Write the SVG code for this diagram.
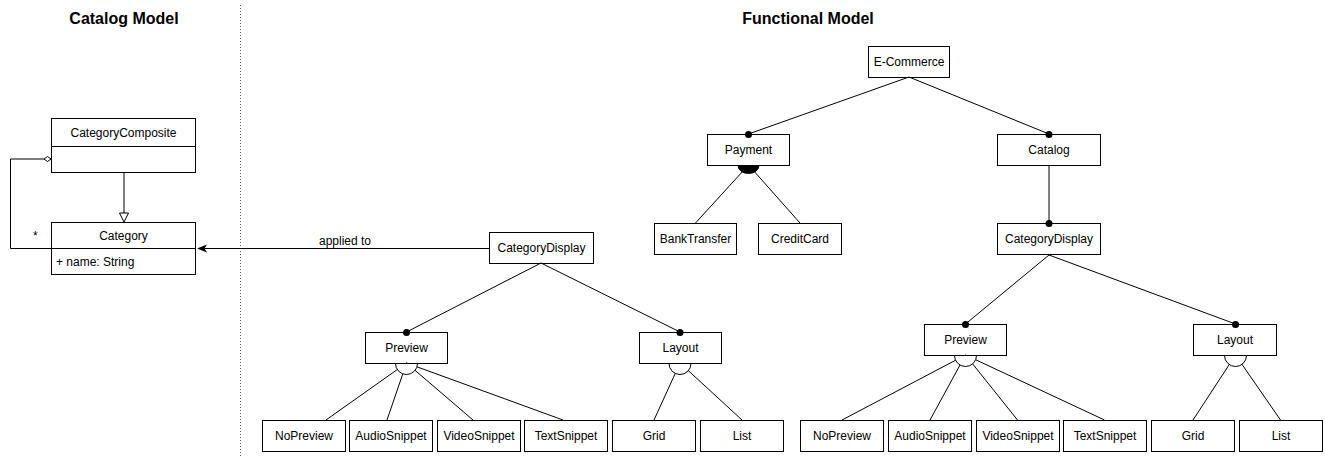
<svg xmlns="http://www.w3.org/2000/svg" width="1325" height="456" viewBox="0 0 1325 456">
  <style>
    .box { fill: #ffffff; stroke: #000000; stroke-width: 1; }
    .edge { fill: none; stroke: #000000; stroke-width: 1; }
    .lbl { font-family: "Liberation Sans", Arial, sans-serif; font-size: 12px; fill: #000000; text-anchor: middle; }
    .lbl-l { font-family: "Liberation Sans", Arial, sans-serif; font-size: 12px; fill: #000000; }
    .title { font-family: "Liberation Sans", Arial, sans-serif; font-size: 16px; font-weight: bold; fill: #000000; text-anchor: middle; }
    .dot { fill: #000000; }
    .alt { fill: #ffffff; stroke: #000000; stroke-width: 1; }
    .or { fill: #000000; stroke: #000000; stroke-width: 1; }
    .sep { stroke: #555555; stroke-width: 1; stroke-dasharray: 1 2; }
  </style>

  <!-- section titles and separator -->
  <text class="title" x="124" y="24">Catalog Model</text>
  <text class="title" x="808" y="24">Functional Model</text>
  <line class="sep" x1="240.5" y1="5" x2="240.5" y2="456"/>

  <!-- UML classes -->
  <g id="CategoryComposite">
    <rect class="box" x="51.5" y="118.5" width="144" height="54"/>
    <line class="edge" x1="51.5" y1="146.5" x2="195.5" y2="146.5"/>
    <text class="lbl" x="123.5" y="137">CategoryComposite</text>
  </g>
  <g id="Category">
    <rect class="box" x="51.5" y="222.5" width="144" height="52"/>
    <line class="edge" x1="51.5" y1="248.5" x2="195.5" y2="248.5"/>
    <text class="lbl" x="123.5" y="240">Category</text>
    <text class="lbl-l" x="56" y="266">+ name: String</text>
  </g>

  <!-- feature nodes -->
  <g id="ECommerce">
    <rect class="box" x="868.5" y="46.5" width="81" height="31"/>
    <text class="lbl" x="909" y="66">E-Commerce</text>
  </g>
  <g id="Payment">
    <rect class="box" x="707.5" y="134.5" width="82" height="31"/>
    <text class="lbl" x="748.5" y="154">Payment</text>
  </g>
  <g id="Catalog">
    <rect class="box" x="997.5" y="134.5" width="103" height="31"/>
    <text class="lbl" x="1049" y="154">Catalog</text>
  </g>
  <g id="BankTransfer">
    <rect class="box" x="654.5" y="223.5" width="82" height="31"/>
    <text class="lbl" x="695.5" y="243">BankTransfer</text>
  </g>
  <g id="CreditCard">
    <rect class="box" x="758.5" y="223.5" width="83" height="31"/>
    <text class="lbl" x="800" y="243">CreditCard</text>
  </g>
  <g id="CategoryDisplayRight">
    <rect class="box" x="997.5" y="223.5" width="103" height="31"/>
    <text class="lbl" x="1049" y="243">CategoryDisplay</text>
  </g>
  <g id="CategoryDisplayLeft">
    <rect class="box" x="489.5" y="232.5" width="104" height="31"/>
    <text class="lbl" x="541.5" y="252">CategoryDisplay</text>
  </g>

  <!-- left subtree -->
  <g id="PreviewLeft">
    <rect class="box" x="365.5" y="332.5" width="82" height="31"/>
    <text class="lbl" x="406.5" y="352">Preview</text>
  </g>
  <g id="LayoutLeft">
    <rect class="box" x="639.5" y="332.5" width="82" height="31"/>
    <text class="lbl" x="680.5" y="352">Layout</text>
  </g>
  <g id="NoPreviewLeft">
    <rect class="box" x="262.5" y="420.5" width="83" height="31"/>
    <text class="lbl" x="304" y="440">NoPreview</text>
  </g>
  <g id="AudioSnippetLeft">
    <rect class="box" x="349.5" y="420.5" width="83" height="31"/>
    <text class="lbl" x="391" y="440">AudioSnippet</text>
  </g>
  <g id="VideoSnippetLeft">
    <rect class="box" x="437.5" y="420.5" width="83" height="31"/>
    <text class="lbl" x="479" y="440">VideoSnippet</text>
  </g>
  <g id="TextSnippetLeft">
    <rect class="box" x="524.5" y="420.5" width="83" height="31"/>
    <text class="lbl" x="566" y="440">TextSnippet</text>
  </g>
  <g id="GridLeft">
    <rect class="box" x="612.5" y="420.5" width="83" height="31"/>
    <text class="lbl" x="654" y="440">Grid</text>
  </g>
  <g id="ListLeft">
    <rect class="box" x="700.5" y="420.5" width="83" height="31"/>
    <text class="lbl" x="742" y="440">List</text>
  </g>

  <!-- right subtree -->
  <g id="PreviewRight">
    <rect class="box" x="924.5" y="324.5" width="82" height="31"/>
    <text class="lbl" x="965.5" y="344">Preview</text>
  </g>
  <g id="LayoutRight">
    <rect class="box" x="1193.5" y="324.5" width="83" height="31"/>
    <text class="lbl" x="1235" y="344">Layout</text>
  </g>
  <g id="NoPreviewRight">
    <rect class="box" x="800.5" y="420.5" width="83" height="31"/>
    <text class="lbl" x="842" y="440">NoPreview</text>
  </g>
  <g id="AudioSnippetRight">
    <rect class="box" x="888.5" y="420.5" width="83" height="31"/>
    <text class="lbl" x="930" y="440">AudioSnippet</text>
  </g>
  <g id="VideoSnippetRight">
    <rect class="box" x="976.5" y="420.5" width="83" height="31"/>
    <text class="lbl" x="1018" y="440">VideoSnippet</text>
  </g>
  <g id="TextSnippetRight">
    <rect class="box" x="1063.5" y="420.5" width="83" height="31"/>
    <text class="lbl" x="1105" y="440">TextSnippet</text>
  </g>
  <g id="GridRight">
    <rect class="box" x="1151.5" y="420.5" width="83" height="31"/>
    <text class="lbl" x="1193" y="440">Grid</text>
  </g>
  <g id="ListRight">
    <rect class="box" x="1239.5" y="420.5" width="83" height="31"/>
    <text class="lbl" x="1281" y="440">List</text>
  </g>

  <!-- connectors, drawn above the boxes so end dots stay whole -->
  <g id="connectors">
    <!-- UML: generalization CategoryComposite -> Category -->
    <line class="edge" x1="124" y1="172" x2="124" y2="213"/>
    <path class="alt" d="M119.5,213 L128.5,213 L124,222 Z"/>
    <!-- UML: aggregation loop -->
    <path class="edge" d="M44,159 L10.5,159 L10.5,248.5 L51,248.5"/>
    <path class="alt" d="M51,159 L47.5,156.5 L44,159 L47.5,161.5 Z"/>
    <text class="lbl-l" x="33" y="240">*</text>
    <!-- applied to -->
    <line class="edge" x1="489" y1="248.5" x2="200" y2="248.5"/>
    <path class="dot" d="M197,248.5 L207,244.5 L204.5,248.5 L207,252.5 Z"/>
    <text class="lbl" x="345" y="245">applied to</text>

    <!-- E-Commerce subtree -->
    <line class="edge" x1="909" y1="77" x2="748.5" y2="134"/>
    <line class="edge" x1="909" y1="77" x2="1049" y2="134"/>
    <line class="edge" x1="748.5" y1="165" x2="695.5" y2="223"/>
    <line class="edge" x1="748.5" y1="165" x2="800" y2="223"/>
    <line class="edge" x1="1049" y1="165" x2="1049" y2="223"/>

    <!-- left CategoryDisplay subtree -->
    <line class="edge" x1="541" y1="263" x2="406.5" y2="332"/>
    <line class="edge" x1="541" y1="263" x2="680" y2="332"/>
    <line class="edge" x1="406.5" y1="363" x2="326" y2="420"/>
    <line class="edge" x1="406.5" y1="363" x2="387" y2="420"/>
    <line class="edge" x1="406.5" y1="363" x2="473" y2="420"/>
    <line class="edge" x1="406.5" y1="363" x2="563" y2="420"/>
    <line class="edge" x1="680" y1="363" x2="654" y2="420"/>
    <line class="edge" x1="680" y1="363" x2="742" y2="420"/>

    <!-- right CategoryDisplay subtree -->
    <line class="edge" x1="1049" y1="255" x2="965.5" y2="324"/>
    <line class="edge" x1="1049" y1="255" x2="1235.5" y2="324"/>
    <line class="edge" x1="965.5" y1="355" x2="842" y2="420"/>
    <line class="edge" x1="965.5" y1="355" x2="930" y2="420"/>
    <line class="edge" x1="965.5" y1="355" x2="1017.5" y2="420"/>
    <line class="edge" x1="965.5" y1="355" x2="1104.5" y2="420"/>
    <line class="edge" x1="1235.5" y1="355" x2="1193" y2="420"/>
    <line class="edge" x1="1235.5" y1="355" x2="1280.5" y2="420"/>

    <!-- group arcs -->
    <path class="or" d="M738,165.5 A10.5,8 0 0 0 759,165.5 Z"/>
    <path class="alt" d="M395.5,363.5 A11,11 0 0 0 417.5,363.5 Z"/>
    <path class="alt" d="M669,363.5 A11,11 0 0 0 691,363.5 Z"/>
    <path class="alt" d="M954.5,355.5 A11,11 0 0 0 976.5,355.5 Z"/>
    <path class="alt" d="M1224.5,355.5 A11,11 0 0 0 1246.5,355.5 Z"/>

    <!-- mandatory dots -->
    <circle class="dot" cx="748.5" cy="134.5" r="3.5"/>
    <circle class="dot" cx="1049" cy="134.5" r="3.5"/>
    <circle class="dot" cx="1049" cy="223.5" r="3.5"/>
    <circle class="dot" cx="406.5" cy="332.5" r="3.5"/>
    <circle class="dot" cx="680" cy="332.5" r="3.5"/>
    <circle class="dot" cx="965.5" cy="324.5" r="3.5"/>
    <circle class="dot" cx="1235.5" cy="324.5" r="3.5"/>
  </g>
</svg>
